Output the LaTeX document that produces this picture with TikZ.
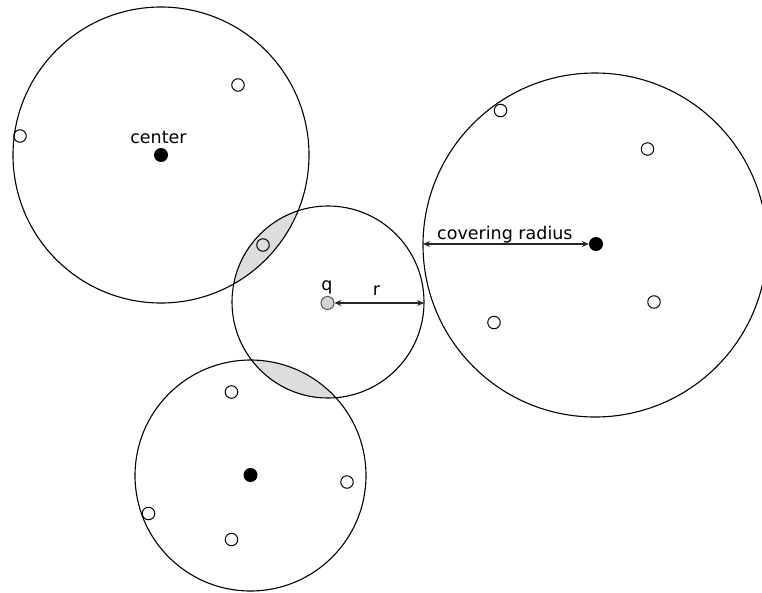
\documentclass[tikz,border=0pt]{standalone}
\usepackage{fontspec}
\setmainfont{DejaVu Sans}
\usetikzlibrary{arrows.meta}
\definecolor{lens}{HTML}{DDDDDD}
\definecolor{qgray}{HTML}{D4D4D4}
\begin{document}
\begin{tikzpicture}[x=1pt,y=-1pt,
  ring/.style={draw=black,line width=1.1pt},
  hollow/.style={circle,draw=black,line width=1pt,minimum size=12.5pt,inner sep=0pt},
  solid/.style={circle,fill=black,minimum size=14pt,inner sep=0pt},
  qdotstyle/.style={circle,draw=black!65,fill=qgray,line width=1pt,minimum size=13pt,inner sep=0pt},
  lbl/.style={font=\fontsize{17.5}{20}\selectfont,inner sep=0pt,anchor=base},
  dimarrow/.style={draw=black!85,line width=1.1pt,{Stealth[length=7pt,width=6pt,inset=2.5pt]}-{Stealth[length=7pt,width=6pt,inset=2.5pt]}}]
\useasboundingbox (0,0) rectangle (762,592);
% circle centres
\coordinate (c1) at (161,155);
\coordinate (cq) at (328,302);
\coordinate (cr) at (595,245);
\coordinate (cb) at (250.5,475.5);
% shaded lenses
\begin{scope}
  \clip (cq) circle (96);
  \fill[lens] (c1) circle (148);
  \fill[lens] (cb) circle (115.5);
\end{scope}
% circles
\draw[ring] (c1) circle (148);
\draw[ring] (cq) circle (96);
\begin{scope}
  \clip (0,0) rectangle (762,592);
  \draw[ring] (cr) circle (172);
\end{scope}
\draw[ring] (cb) circle (115.5);
% hollow points
\node[hollow] (a1) at (238,85) {};
\node[hollow] (a2) at (20,136) {};
\node[hollow] (a3) at (263,245) {};
\node[hollow] (b1) at (500.5,110.5) {};
\node[hollow] (b2) at (647.5,149) {};
\node[hollow] (b3) at (654,302) {};
\node[hollow] (b4) at (494,322.5) {};
\node[hollow] (d1) at (231.5,392) {};
\node[hollow] (d2) at (347,482) {};
\node[hollow] (d3) at (148.5,513.5) {};
\node[hollow] (d4) at (231.5,539.5) {};
% centres
\node[solid] (s1) at (161,155) {};
\node[solid] (s2) at (596,244) {};
\node[solid] (s3) at (250.5,475) {};
\node[qdotstyle] (q) at (327.5,303) {};
% labels
\node[lbl] (tcenter) at (158.5,143) {center};
\node[lbl] (tq) at (327,290) {q};
\node[lbl] (tr) at (376.5,295.5) {r};
\node[lbl,anchor=base west] (tcov) at (437,239.5) {covering radius};
% arrows
\coordinate (qedge) at (424,303);
\coordinate (redge) at (423,244);
\draw[dimarrow] (q.east) -- (qedge);
\draw[dimarrow] (redge) -- (s2.west);
\end{tikzpicture}
\end{document}
